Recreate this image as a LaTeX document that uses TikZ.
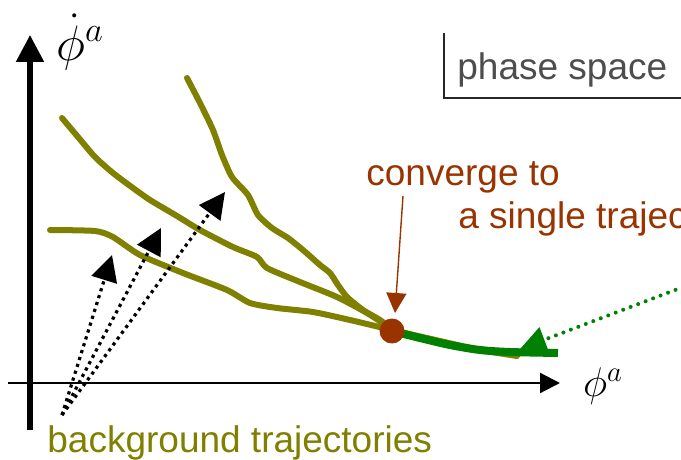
\documentclass[tikz,border=0pt]{standalone}
\usepackage{amsmath}
\usepackage{fontspec}
\newfontfamily\labelfont{Liberation Sans}
\usepackage{tikz}
\usetikzlibrary{arrows.meta}
\definecolor{trajolive}{HTML}{808000}
\definecolor{convbrown}{HTML}{993300}
\definecolor{refgreen}{HTML}{008000}
\definecolor{boxgray}{HTML}{4D4D4D}

\begin{document}
\begin{tikzpicture}[x=0.5pt,y=-0.5pt,
    traj/.style={trajolive,line width=3pt,line join=round,line cap=round},
    kick/.style={line width=1.6pt,dash pattern=on 1.6pt off 2pt,
                 -{Triangle[length=13pt,width=13pt]}},
    lbl/.style={font=\labelfont\fontsize{18.5}{22}\selectfont,inner sep=0pt,anchor=base west}]
  \useasboundingbox (0,0) rectangle (681,460);
  \clip (0,0) rectangle (681,460);
  % axes
  \coordinate (ybot) at (30,430);
  \coordinate (ytop) at (30,35);
  \coordinate (xleft) at (8,383);
  \coordinate (xright) at (560,383);
  \draw[line width=2.6pt,-{Triangle[length=13.5pt,width=13.5pt]}] (ybot)--(ytop);
  \draw[line width=1.1pt,-{Triangle[length=10pt,width=10pt]}] (xleft)--(xright);
  \node[font=\fontsize{27}{30}\selectfont] (phidot) at (80,42) {$\dot{\phi}^a$};
  \node[font=\fontsize{21}{24}\selectfont] (phi) at (603,386) {$\phi^a$};

  % phase space tag
  \draw[line width=0.9pt,black!85] (444,33)--(444,98)--(681,98);
  \node[lbl,text=boxgray] (tag) at (457,80) {phase space};

  % background trajectories
  \draw[traj] plot[smooth,tension=0.4] coordinates {(50,230) (95,231) (113,237)
      (140,255) (183,273) (227,290) (250,303) (277,308) (313,312) (350,320)
      (392,330) (440,341) (480,350) (517,356)};
  \draw[traj] plot[smooth,tension=0.4] coordinates {(62,118) (78,137) (95,157)
      (113,173) (133,188) (150,200) (177,216) (200,230) (233,247) (257,257)
      (267,268) (300,282) (337,297) (367,313) (392,329)};
  \draw[traj] plot[smooth,tension=0.4] coordinates {(187,78) (200,103) (213,130)
      (222,155) (232,177) (248,195) (258,215) (272,228) (288,238) (303,250)
      (320,265) (330,273) (338,285) (347,297) (363,310) (380,320) (392,329)};

  % the single trajectory
  \draw[refgreen,line width=4pt] plot[smooth,tension=0.5] coordinates {(392,331)
      (420,338) (450,345) (480,350) (510,352) (558,353)};
  \node[circle,fill=convbrown,inner sep=0pt,minimum size=12.5pt] (conv) at (392,331) {};

  % labels
  \node[lbl,text=convbrown] (convlbl) at (366,185) {converge to};
  \node[lbl,text=convbrown] (convlbl2) at (458,228) {a single trajectory};
  \node[lbl,text=trajolive] (bglbl) at (47,452) {background trajectories};

  % arrows
  \coordinate (cfrom) at (403,196);
  \coordinate (cto) at (395,313);
  \draw[convbrown,line width=0.7pt,-{Triangle[length=10pt,width=10pt]}] (cfrom)--(cto);
  \coordinate (gfrom) at (683,287);
  \coordinate (gto) at (520,349);
  \draw[refgreen,line width=2pt,line cap=round,dash pattern=on 0pt off 4pt,
        -{Triangle[length=13pt,width=13pt]}] (gfrom)--(gto);
  \coordinate (bg0) at (62,415);
  \coordinate (k1) at (112,255);
  \coordinate (k2) at (161,228);
  \coordinate (k3) at (225,192);
  \foreach \k in {k1,k2,k3}
    \draw[kick] (bg0)--(\k);
\end{tikzpicture}
\end{document}
